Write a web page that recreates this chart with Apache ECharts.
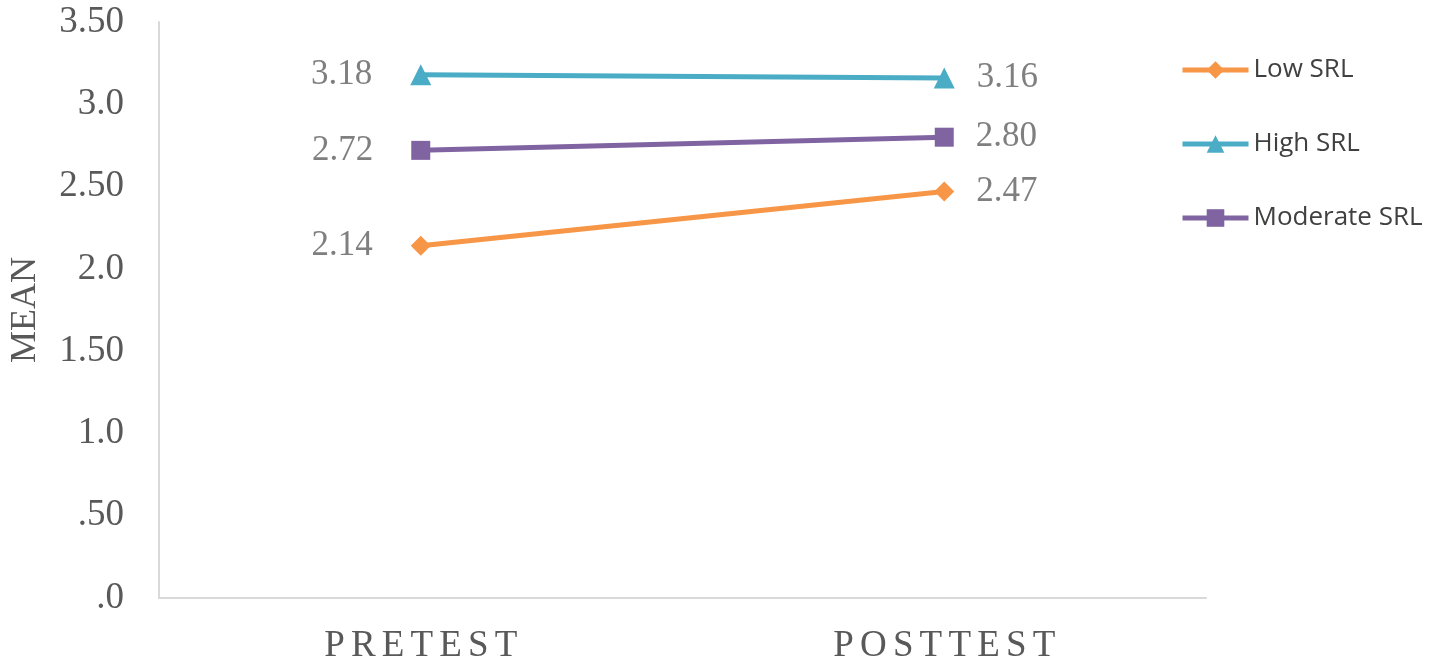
<!DOCTYPE html>
<html>
<head>
<meta charset="utf-8">
<script src="https://cdn.jsdelivr.net/npm/echarts@6/dist/echarts.min.js"></script>
<style>
  html, body { margin: 0; padding: 0; background: #fff; }
  #chart { width: 1429px; height: 666px; }
</style>
</head>
<body>
<div id="chart"></div>
<script>
const categories = ['PRETEST', 'POSTTEST']
const lowSRL = [2.14, 2.47]
const highSRL = [3.18, 3.16]
const moderateSRL = [2.72, 2.80]
const yTickValues = [0, 0.5, 1, 1.5, 2, 2.5, 3, 3.5]
const yTickLabels = ['.0', '.50', '1.0', '1.50', '2.0', '2.50', '3.0', '3.50']

const serif = '"Liberation Serif", "Times New Roman", serif'

// spread the letters a bit like the original
const spaced = s => s.split('').join('\u2006')

const labelFor = (vals) => vals.map((v, i) => ({
  value: v,
  label: {
    show: true,
    position: i === 0 ? 'left' : 'right',
    distance: i === 0 ? 38 : 22,
    formatter: v.toFixed(2),
    fontFamily: serif,
    fontSize: 35,
    color: '#7f7f7f'
  }
}))

const myChart = echarts.init(document.getElementById('chart'))
myChart.setOption({
  animation: false,
  grid: { left: 157, right: 223, top: 22, bottom: 68 },
  legend: {
    orient: 'vertical',
    left: 1180,
    top: 55,
    padding: 0,
    itemWidth: 66,
    itemHeight: 22,
    itemGap: 44,
    lineStyle: { width: 5 },
    textStyle: { fontFamily: '"Open Sans", sans-serif', fontSize: 26, color: '#404040', lineHeight: 30 },
    data: ['Low SRL', 'High SRL', 'Moderate SRL']
  },
  xAxis: {
    type: 'category',
    data: categories,
    axisLine: { lineStyle: { color: '#d9d9d9', width: 2 } },
    axisTick: { show: false },
    axisLabel: {
      margin: 30,
      fontFamily: serif,
      fontSize: 37,
      color: '#595959',
      formatter: spaced
    }
  },
  yAxis: {
    type: 'value',
    min: 0,
    max: 3.5,
    interval: 0.5,
    name: 'MEAN',
    nameLocation: 'middle',
    nameGap: 115,
    nameTextStyle: { fontFamily: serif, fontSize: 36, color: '#595959' },
    axisLine: { show: true, lineStyle: { color: '#d9d9d9', width: 2 } },
    axisTick: { show: false },
    splitLine: { show: false },
    axisLabel: {
      margin: 35,
      fontFamily: serif,
      fontSize: 37,
      color: '#595959',
      formatter: v => yTickLabels[yTickValues.indexOf(Math.round(v * 10) / 10)]
    }
  },
  series: [
    {
      name: 'Low SRL',
      type: 'line',
      data: labelFor(lowSRL),
      color: '#F79646',
      symbol: 'diamond',
      symbolSize: 20,
      lineStyle: { width: 5 }
    },
    {
      name: 'High SRL',
      type: 'line',
      data: labelFor(highSRL),
      color: '#4BACC6',
      symbol: 'triangle',
      symbolSize: 21,
      lineStyle: { width: 5 }
    },
    {
      name: 'Moderate SRL',
      type: 'line',
      data: labelFor(moderateSRL),
      color: '#8064A2',
      symbol: 'rect',
      symbolSize: 19,
      lineStyle: { width: 5 }
    }
  ]
})
</script>
</body>
</html>
